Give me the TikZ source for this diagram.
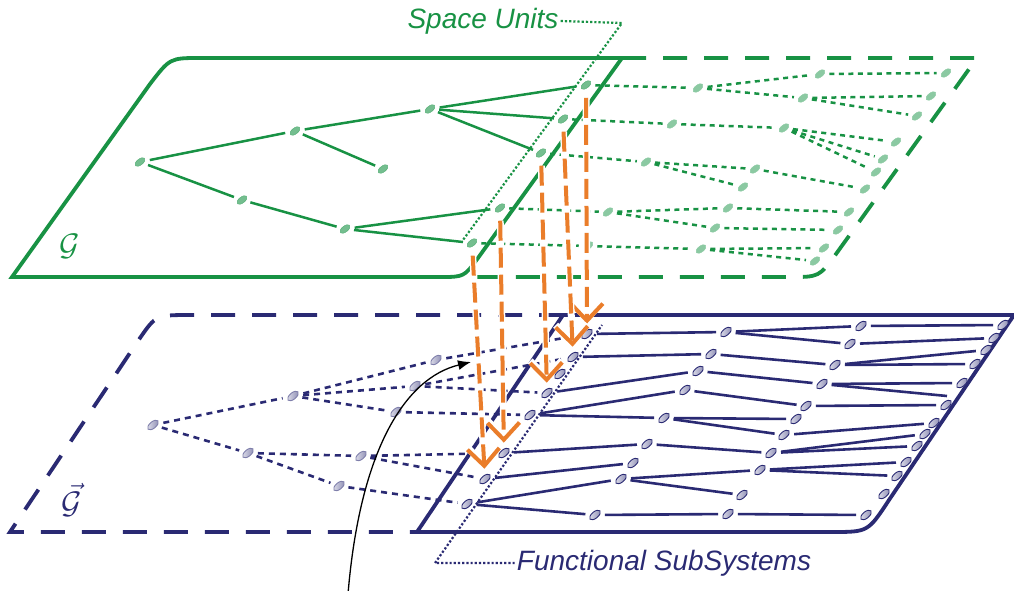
\documentclass[tikz,border=0pt]{standalone}
\usepackage{graphicx}
\usepackage{fontspec}
\setmainfont{Liberation Sans}
\usetikzlibrary{shapes.geometric, arrows.meta}
\definecolor{suGreen}{RGB}{24,146,68}
\definecolor{fsNavy}{RGB}{42,42,115}
\definecolor{mapOrange}{RGB}{234,125,42}
\tikzset{
  sunode/.style={ellipse, draw=suGreen!75, fill=suGreen!60, line width=0.4pt,
    minimum width=12pt, minimum height=6pt, inner sep=0pt, rotate=38},
  sufaint/.style={sunode, draw=suGreen!50, fill=suGreen!50},
  fsnode/.style={ellipse, draw=fsNavy, left color=fsNavy!15, right color=fsNavy!55, line width=0.9pt,
    minimum width=13pt, minimum height=6.5pt, inner sep=0pt, rotate=40},
  fsfaint/.style={fsnode, draw=fsNavy!60},
  sulink/.style={suGreen, line width=2.5pt, shorten <=5pt, shorten >=5pt},
  sudash/.style={sulink, dash pattern=on 5pt off 4.5pt},
  fslink/.style={fsNavy, line width=2.6pt, shorten <=5pt, shorten >=5pt},
  fsdash/.style={fslink, dash pattern=on 6pt off 5pt},
  plane/.style={line width=3.8pt},
  planedash/.style={plane, dash pattern=on 24pt off 17pt},
  band/.style={line width=2.2pt, dotted},
  planelbl/.style={font=\fontsize{24.88}{30}\selectfont},
  bandlbl/.style={font=\fontsize{28}{30}\selectfont\itshape, inner sep=2pt},
  maparrow/.style={mapOrange, line width=4pt, dash pattern=on 20pt off 7pt,
    -{Straight Barb[length=17pt, width=32pt]}, shorten <=9pt, shorten >=6pt,
    preaction={draw=white, line width=7pt}},
}

\begin{document}
\begin{tikzpicture}[x=1pt, y=-1pt]
\useasboundingbox (0,0) rectangle (1014,591);

% upper plane
\draw[plane, suGreen] (12,277) -- (150,84) .. controls (170,58) .. (200,58) -- (622,58)
  -- (478,258) .. controls (464,277) .. (440,277) -- cycle;
\draw[planedash, suGreen] (622,58) -- (977,58) -- (836,254) .. controls (819,277) .. (790,277) -- (466,277);
\node[planelbl, text=suGreen] (glbl) at (70,246) {\scalebox{1.25}{$\mathcal{G}$}};

\node[bandlbl, text=suGreen] (spaceu) at (483,21) {Space Units};
\coordinate (su-top) at (622,23);
\coordinate (su-bot) at (463,240);
\draw[band, suGreen] (spaceu.east) -- (su-top) -- (su-bot);

% tree on G
\node[sunode] (ga) at (140,162) {};
\node[sunode] (gb) at (295,131) {};
\node[sunode] (gc) at (430,109) {};
\node[sunode] (gd) at (383,169) {};
\node[sunode] (ge) at (242,200) {};
\node[sunode] (gf) at (345,229) {};
\node[sunode] (su1) at (586,85) {};
\node[sunode] (su2) at (563,119) {};
\node[sunode] (su3) at (541,153) {};
\node[sunode] (su4) at (500,208) {};
\node[sunode] (su5) at (472,243) {};
\node[sufaint] (r11) at (698,88) {};
\node[sufaint] (r12) at (820,74) {};
\node[sufaint] (r13) at (946,73) {};
\node[sufaint] (r14) at (803,98) {};
\node[sufaint] (r15) at (931,96) {};
\node[sufaint] (r16) at (917,116) {};
\node[sufaint] (r21) at (672,124) {};
\node[sufaint] (r22) at (784,128) {};
\node[sufaint] (r23) at (896,142) {};
\node[sufaint] (r24) at (883,159) {};
\node[sufaint] (r25) at (876,172) {};
\node[sufaint] (r31) at (646,162) {};
\node[sufaint] (r32) at (755,169) {};
\node[sufaint] (r33) at (743,187) {};
\node[sufaint] (r34) at (865,189) {};
\node[sufaint] (r41) at (608,212) {};
\node[sufaint] (r42) at (728,208) {};
\node[sufaint] (r43) at (849,212) {};
\node[sufaint] (r44) at (715,228) {};
\node[sufaint] (r45) at (838,230) {};
\node[sufaint] (r51) at (588,246) {};
\node[sufaint] (r52) at (701,249) {};
\node[sufaint] (r53) at (824,248) {};
\node[sufaint] (r54) at (815,261) {};

\draw[sulink] (ga) -- (gb);  \draw[sulink] (ga) -- (ge);
\draw[sulink] (gb) -- (gc);  \draw[sulink] (gb) -- (gd);
\draw[sulink] (ge) -- (gf);
\draw[sulink] (gc) -- (su1); \draw[sulink] (gc) -- (su2); \draw[sulink] (gc) -- (su3);
\draw[sulink] (gf) -- (su4); \draw[sulink] (gf) -- (su5);

\draw[sudash] (su1) -- (r11); \draw[sudash] (r11) -- (r12); \draw[sudash] (r12) -- (r13);
\draw[sudash] (r11) -- (r14); \draw[sudash] (r14) -- (r15); \draw[sudash] (r14) -- (r16);
\draw[sudash] (su2) -- (r21); \draw[sudash] (r21) -- (r22); \draw[sudash] (r22) -- (r23);
\draw[sudash] (r22) -- (r24); \draw[sudash] (r22) -- (r25);
\draw[sudash] (su3) -- (r31); \draw[sudash] (r31) -- (r32); \draw[sudash] (r31) -- (r33);
\draw[sudash] (r32) -- (r34);
\draw[sudash] (su4) -- (r41); \draw[sudash] (r41) -- (r42); \draw[sudash] (r42) -- (r43);
\draw[sudash] (r41) -- (r44); \draw[sudash] (r44) -- (r45);
\draw[sudash] (su5) -- (r51); \draw[sudash] (r51) -- (r52); \draw[sudash] (r52) -- (r53);
\draw[sudash] (r52) -- (r54);

% lower plane
\draw[plane, fsNavy] (417,532) -- (563,315) -- (1014,315) -- (889,500) .. controls (868,532) .. (832,532) -- cycle;
\draw[planedash, fsNavy] (563,315) -- (192,315) .. controls (156,315) .. (140,338) -- (10,532) -- (417,532);
\node[planelbl, text=fsNavy] (gtlbl) at (72,500) {\scalebox{1.25}{$\vec{\mathcal{G}}$}};

\node[bandlbl, text=fsNavy] (funcs) at (664,563) {Functional SubSystems};
\coordinate (fs-bot) at (435,563);
\coordinate (fs-top) at (602,325);
\draw[band, fsNavy] (funcs.west) -- (fs-bot) -- (fs-top);

% tree on G~
\node[fsfaint] (la) at (153,425) {};
\node[fsfaint] (lb) at (293,396) {};
\node[fsfaint] (lc) at (436,360) {};
\node[fsfaint] (ld) at (415,386) {};
\node[fsfaint] (le) at (396,412) {};
\node[fsfaint] (lf) at (248,453) {};
\node[fsfaint] (lg) at (361,456) {};
\node[fsfaint] (lh) at (339,486) {};
\node[fsnode] (fs1) at (587,334) {};
\node[fsnode] (fs2) at (573,357) {};
\node[fsnode] (fs3) at (560,374) {};
\node[fsnode] (fs4) at (547,393) {};
\node[fsnode] (fs5) at (530,415) {};
\node[fsnode] (fs6) at (504,453) {};
\node[fsnode] (fs7) at (485,479) {};
\node[fsnode] (fs8) at (467,504) {};
\node[fsnode] (s11) at (726,332) {};
\node[fsnode] (s12) at (861,326) {};
\node[fsnode] (s13) at (1003,325) {};
\node[fsnode] (s14) at (850,344) {};
\node[fsnode] (s15) at (994,338) {};
\node[fsnode] (s21) at (711,354) {};
\node[fsnode] (s22) at (835,365) {};
\node[fsnode] (s23) at (986,350) {};
\node[fsnode] (s24) at (975,364) {};
\node[fsnode] (s31) at (698,371) {};
\node[fsnode] (s32) at (822,384) {};
\node[fsnode] (s33) at (962,383) {};
\coordinate (s34) at (947,396);
\node[fsnode] (s41) at (685,390) {};
\node[fsnode] (s42) at (806,406) {};
\node[fsnode] (s43) at (946,405) {};
\node[fsnode] (s51) at (664,418) {};
\node[fsnode] (s52) at (796,419) {};
\node[fsnode] (s53) at (784,435) {};
\node[fsnode] (s54) at (934,423) {};
\node[fsnode] (s61) at (647,444) {};
\node[fsnode] (s62) at (771,453) {};
\node[fsnode] (s63) at (925,434) {};
\node[fsnode] (s64) at (917,446) {};
\node[fsnode] (s71) at (633,463) {};
\node[fsnode] (s81) at (621,479) {};
\node[fsnode] (s82) at (760,470) {};
\node[fsnode] (s83) at (906,462) {};
\node[fsnode] (s84) at (897,476) {};
\node[fsnode] (s85) at (742,495) {};
\node[fsnode] (s86) at (884,494) {};
\node[fsnode] (s91) at (595,515) {};
\node[fsnode] (s92) at (728,514) {};
\node[fsnode] (s93) at (866,515) {};

\draw[fsdash] (la) -- (lb);  \draw[fsdash] (lb) -- (lc);  \draw[fsdash] (lc) -- (fs1);
\draw[fsdash] (lb) -- (ld);  \draw[fsdash] (ld) -- (fs2); \draw[fsdash] (ld) -- (fs4);
\draw[fsdash] (lb) -- (le);  \draw[fsdash] (le) -- (fs5);
\draw[fsdash] (la) -- (lf);  \draw[fsdash] (lf) -- (lg);  \draw[fsdash] (lg) -- (fs6);
\draw[fsdash] (lf) -- (lh);  \draw[fsdash] (lg) -- (fs7); \draw[fsdash] (lh) -- (fs8);

\draw[fslink] (fs1) -- (s11); \draw[fslink] (s11) -- (s12); \draw[fslink] (s12) -- (s13);
\draw[fslink] (s11) -- (s14); \draw[fslink] (s14) -- (s15);
\draw[fslink] (fs2) -- (s21); \draw[fslink] (s21) -- (s22); \draw[fslink] (s22) -- (s23);
\draw[fslink] (s22) -- (s24);
\draw[fslink] (fs4) -- (s31); \draw[fslink] (s31) -- (s32); \draw[fslink] (s32) -- (s33);
\draw[fslink, shorten >=0pt] (s32) -- (s34);
\draw[fslink] (fs5) -- (s41); \draw[fslink] (s41) -- (s42); \draw[fslink] (s42) -- (s43);
\draw[fslink] (fs5) -- (s51); \draw[fslink] (s51) -- (s52); \draw[fslink] (s51) -- (s53);
\draw[fslink] (s53) -- (s54);
\draw[fslink] (fs6) -- (s61); \draw[fslink] (s61) -- (s62); \draw[fslink] (s62) -- (s63);
\draw[fslink] (s62) -- (s64);
\draw[fslink] (fs7) -- (s71);
\draw[fslink] (fs8) -- (s81); \draw[fslink] (s81) -- (s82); \draw[fslink] (s82) -- (s83);
\draw[fslink] (s82) -- (s84); \draw[fslink] (s81) -- (s85);
\draw[fslink] (fs8) -- (s91); \draw[fslink] (s91) -- (s92); \draw[fslink] (s92) -- (s93);

% pointer
\coordinate (curl-a) at (348,594);
\coordinate (curl-b) at (471,362);
\draw[line width=1.3pt, -{Latex[length=13pt, width=10pt]}] (curl-a) .. controls (360,450) and (405,378) .. (curl-b);

% mapping G -> G~
\draw[maparrow] (su1) -- (fs1);
\draw[maparrow] (su2) -- (fs2);
\draw[maparrow] (su3) -- (fs4);
\draw[maparrow] (su4) -- (fs6);
\draw[maparrow] (su5) -- (fs7);
\end{tikzpicture}
\end{document}
